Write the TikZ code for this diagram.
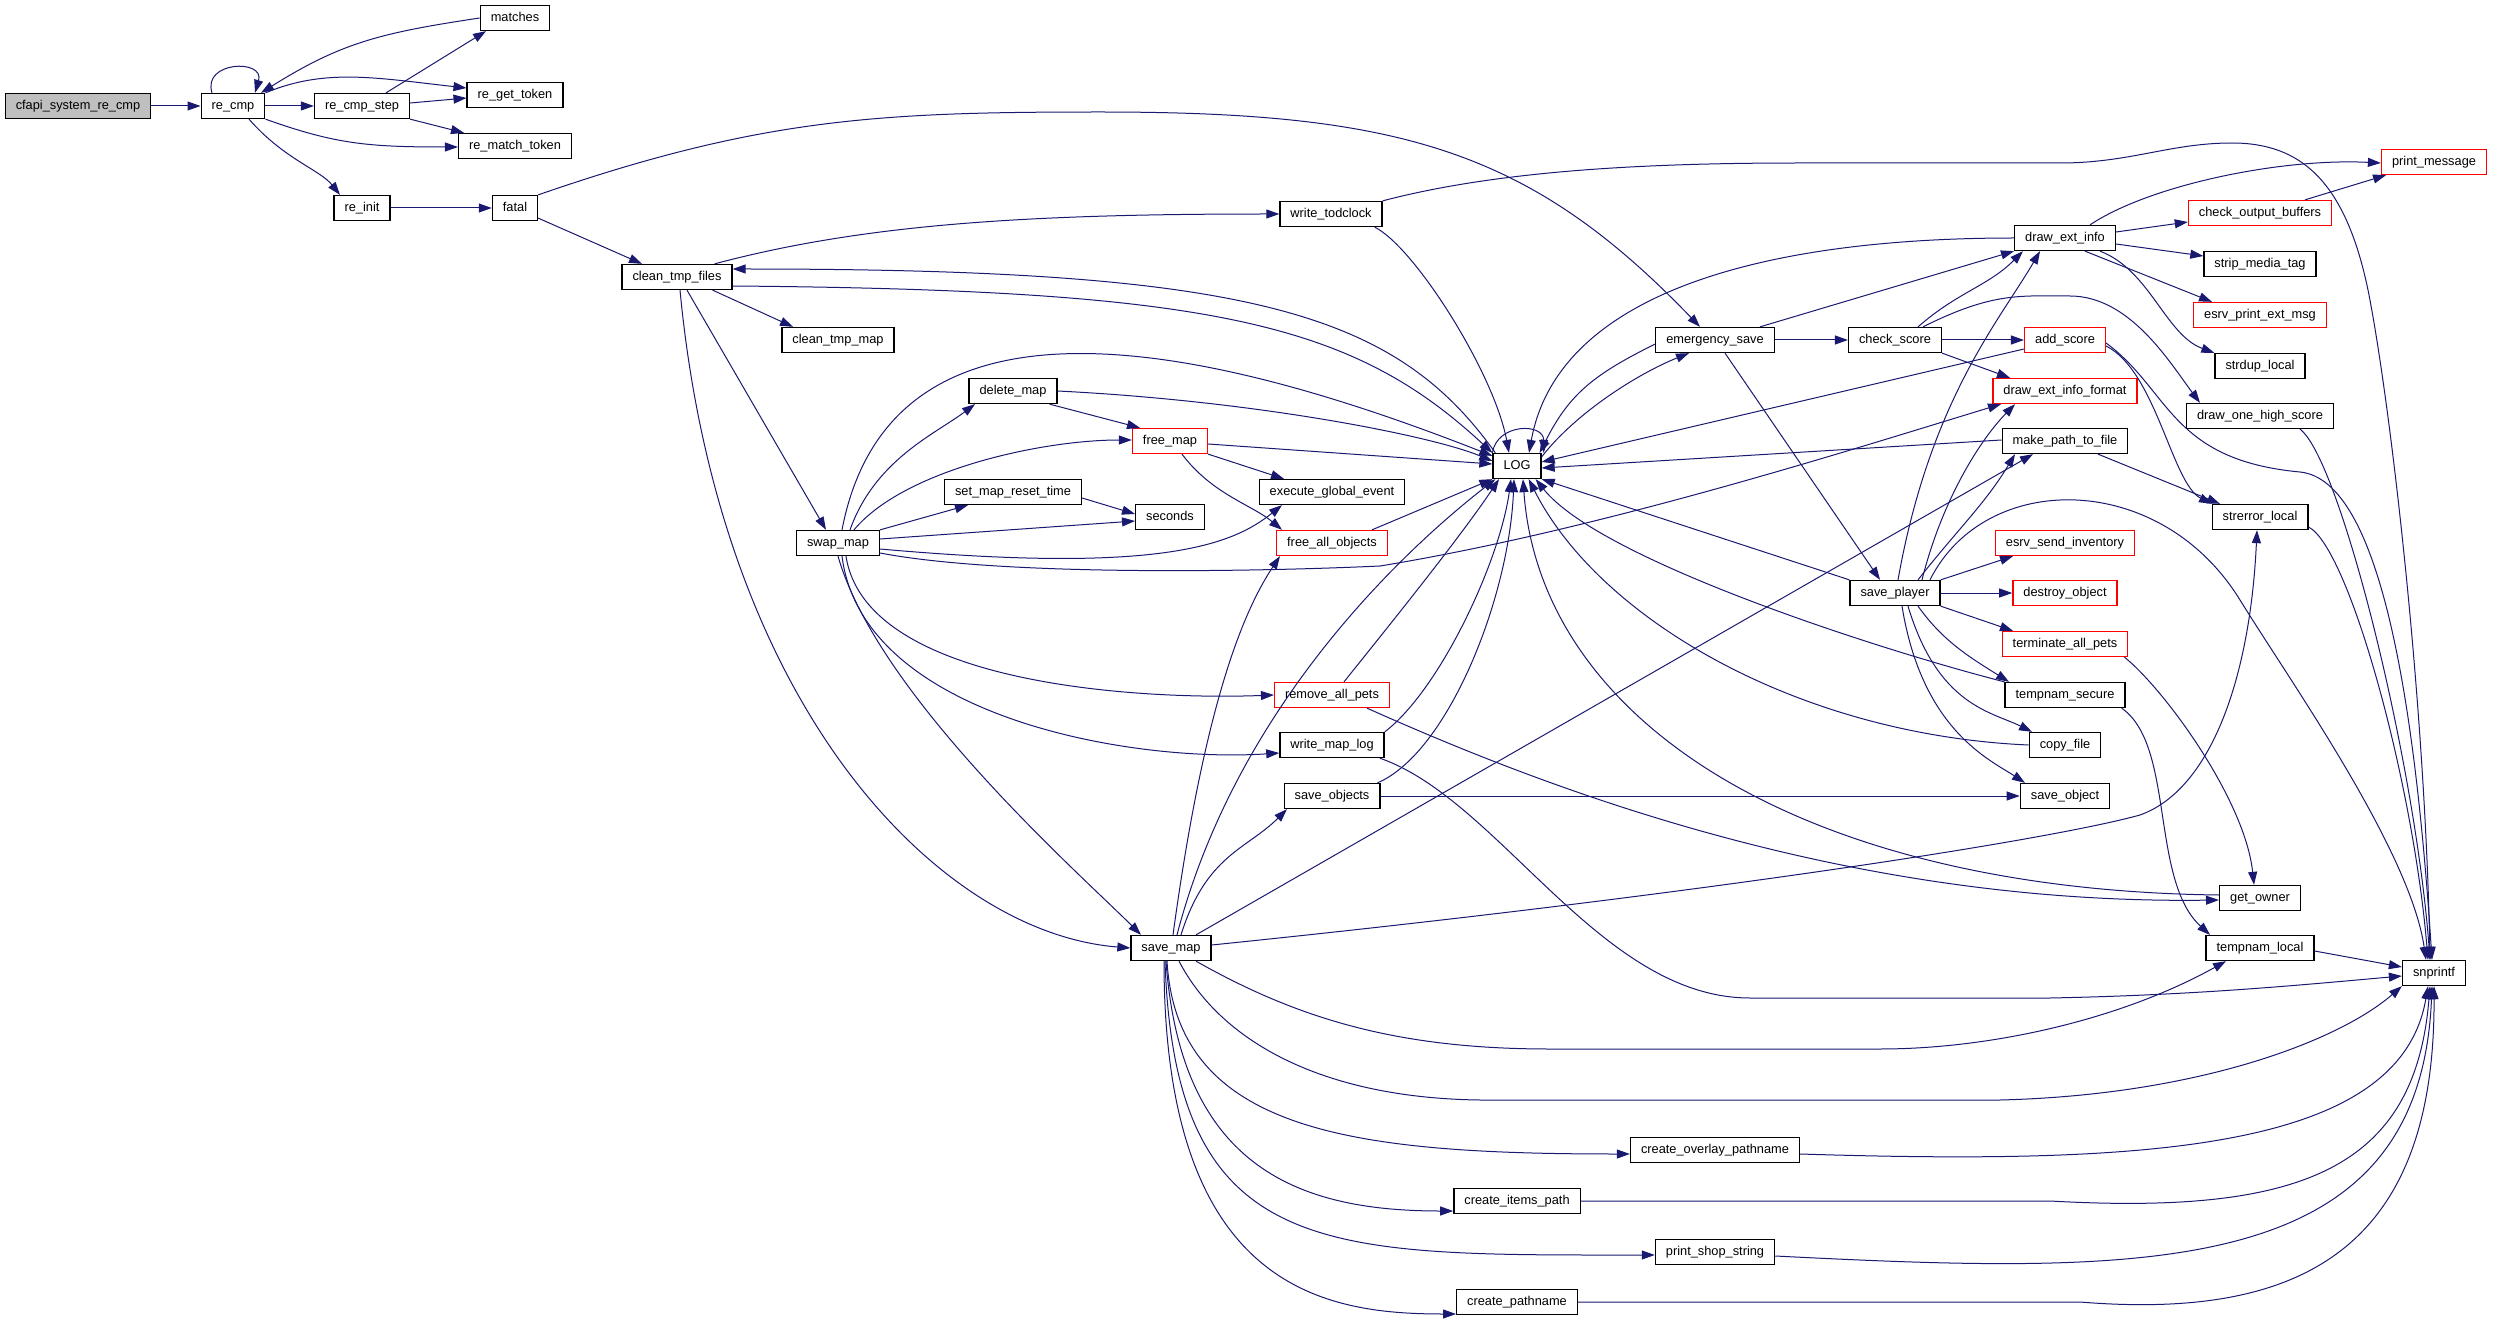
\documentclass[tikz,border=0pt]{standalone}
\usepackage{fontspec}
\setmainfont{Liberation Sans}
\usetikzlibrary{arrows.meta,positioning}
\definecolor{callblue}{HTML}{191970}
\definecolor{truncred}{HTML}{FF0000}
\definecolor{rootgrey}{HTML}{BFBFBF}
\tikzstyle{func} = [draw=black,line width=1.3pt,rectangle,fill=white,minimum height=25pt,inner xsep=10.5pt,inner ysep=0pt,text height=9.2pt,text depth=2.7pt,font=\fontsize{12.8}{15}\selectfont]
\tikzstyle{trunc} = [func,draw=truncred]
\tikzstyle{root} = [func,fill=rootgrey]
\tikzstyle{call} = [draw=callblue,line width=1pt,-{Triangle[length=13pt,width=9pt]}]

\begin{document}
\begin{tikzpicture}[x=1pt,y=1pt]
\useasboundingbox (0,0) rectangle (2493,-1321);
\node[root] (cfapi) at (78,-106) {cfapi\_system\_re\_cmp};
\node[func] (recmp) at (233,-106) {re\_cmp};
\node[func] (recmpstep) at (362,-106) {re\_cmp\_step};
\node[func] (matches) at (515,-18) {matches};
\node[func] (regettoken) at (515,-95) {re\_get\_token};
\node[func] (rematchtoken) at (515,-146) {re\_match\_token};
\node[func] (reinit) at (362,-208) {re\_init};
\node[func] (fatal) at (515,-208) {fatal};
\node[func] (cleantmpfiles) at (677,-277) {clean\_tmp\_files};
\node[func] (cleantmpmap) at (838,-340) {clean\_tmp\_map};
\node[func] (writetodclock) at (1331,-214) {write\_todclock};
\node[func] (deletemap) at (1013,-391) {delete\_map};
\node[trunc] (freemap) at (1170,-441) {free\_map};
\node[func] (setmapresettime) at (1013,-492) {set\_map\_reset\_time};
\node[func] (seconds) at (1170,-517) {seconds};
\node[func] (swapmap) at (838,-543) {swap\_map};
\node[func] (execglobal) at (1332,-492) {execute\_global\_event};
\node[func] (LOG) at (1517,-466) {LOG};
\node[trunc] (freeallobjects) at (1332,-543) {free\_all\_objects};
\node[trunc] (removeallpets) at (1332,-695) {remove\_all\_pets};
\node[func] (writemaplog) at (1332,-745) {write\_map\_log};
\node[func] (saveobjects) at (1332,-796) {save\_objects};
\node[func] (savemap) at (1171,-948) {save\_map};
\node[func] (emergencysave) at (1715,-340) {emergency\_save};
\node[func] (checkscore) at (1895,-340) {check\_score};
\node[func] (saveplayer) at (1895,-593) {save\_player};
\node[func] (drawextinfo) at (2065,-238) {draw\_ext\_info};
\node[trunc] (addscore) at (2065,-340) {add\_score};
\node[trunc] (drawextinfoformat) at (2065,-391) {draw\_ext\_info\_format};
\node[func] (makepath) at (2065,-441) {make\_path\_to\_file};
\node[trunc] (esrvsendinv) at (2065,-543) {esrv\_send\_inventory};
\node[trunc] (destroyobject) at (2065,-593) {destroy\_object};
\node[trunc] (terminateallpets) at (2065,-644) {terminate\_all\_pets};
\node[func] (tempnamsecure) at (2065,-695) {tempnam\_secure};
\node[func] (copyfile) at (2065,-745) {copy\_file};
\node[func] (saveobject) at (2065,-796) {save\_object};
\node[trunc] (printmessage) at (2434,-162) {print\_message};
\node[trunc] (checkoutput) at (2260,-213) {check\_output\_buffers};
\node[func] (stripmedia) at (2260,-264) {strip\_media\_tag};
\node[trunc] (esrvprintext) at (2260,-315) {esrv\_print\_ext\_msg};
\node[func] (strduplocal) at (2260,-366) {strdup\_local};
\node[func] (drawonehigh) at (2260,-416) {draw\_one\_high\_score};
\node[func] (strerrorlocal) at (2260,-517) {strerror\_local};
\node[func] (getowner) at (2260,-898) {get\_owner};
\node[func] (tempnamlocal) at (2260,-948) {tempnam\_local};
\node[func] (snprintf) at (2434,-973) {snprintf};
\node[func] (createoverlay) at (1715,-1150) {create\_overlay\_pathname};
\node[func] (createitems) at (1517,-1201) {create\_items\_path};
\node[func] (printshop) at (1715,-1252) {print\_shop\_string};
\node[func] (createpathname) at (1517,-1302) {create\_pathname};

\draw[call] (cfapi) -- (recmp);
\draw[call] ([xshift=-21pt]recmp.north) .. controls +(-10,32) and +(10,34) .. ([xshift=22pt]recmp.north);
\draw[call] (recmp) -- (recmpstep);
\draw[call] (recmp.north east) .. controls +(60,25) and +(-90,10) .. ([yshift=7pt]regettoken.west);
\draw[call] (recmp.south east) .. controls +(70,-25) and +(-90,0) .. ([yshift=-1pt]rematchtoken.west);
\draw[call] ([xshift=16pt]recmp.south) .. controls +(35,-40) and +(-20,25) .. ([xshift=-22pt]reinit.north);
\draw[call] ([xshift=24pt]recmpstep.north) -- ([xshift=-29pt]matches.south);
\draw[call] ([yshift=3pt]recmpstep.east) -- ([yshift=-3pt]regettoken.west);
\draw[call] (recmpstep.south east) -- ([xshift=6pt]rematchtoken.north west);
\draw[call] (matches.west) .. controls +(-100,-15) and +(80,50) .. ([xshift=28pt]recmp.north);
\draw[call] (reinit) -- (fatal);
\draw[call] (fatal.north east) .. controls (760,-118) and (880,-112) .. (1100,-112) .. controls (1400,-112) and (1530,-150) .. ([xshift=-15pt]emergencysave.north);
\draw[call] ([yshift=3pt]fatal.south east) -- ([xshift=-35pt]cleantmpfiles.north);

\draw[call] ([xshift=-18pt]cleantmpfiles.north east) .. controls +(150,40) and +(-250,0) .. (writetodclock.west);
\draw[call] ([yshift=-9pt]cleantmpfiles.east) .. controls +(480,-4) and +(-140,130) .. (LOG.north west);
\draw[call] ([xshift=3pt]LOG.north west) .. controls +(-100,140) and +(520,0) .. ([yshift=8pt]cleantmpfiles.east);
\draw[call] ([xshift=-20pt]cleantmpfiles.south east) -- ([xshift=-45pt]cleantmpmap.north);
\draw[call] ([xshift=10pt]cleantmpfiles.south) -- ([xshift=-12pt]swapmap.north);
\draw[call] ([xshift=3pt]cleantmpfiles.south) .. controls +(40,-420) and +(-190,15) .. (savemap.west);
\draw[call] ([xshift=-8pt]writetodclock.south east) .. controls +(40,-20) and +(-15,80) .. ([xshift=-8pt]LOG.north);
\draw[call] (writetodclock.north east) .. controls (1500,-170) and (1650,-163) .. (1800,-163) -- (2060,-163) .. controls (2130,-163) and (2170,-143) .. (2232,-143) .. controls (2300,-143) and (2345,-180) .. (2368,-290) .. controls (2390,-400) and (2425,-700) .. ([xshift=-4pt]snprintf.north);

\draw[call] ([xshift=4pt]swapmap.north) .. controls +(50,260) and +(-280,110) .. ([yshift=-3pt]LOG.north west);
\draw[call] ([xshift=12pt]swapmap.north) .. controls +(25,70) and +(-40,-30) .. ([xshift=-38pt]deletemap.south);
\draw[call] ([xshift=16pt]swapmap.north) .. controls +(50,60) and +(-90,0) .. ([yshift=1pt]freemap.west);
\draw[call] (swapmap.north east) -- ([xshift=-45pt]setmapresettime.south);
\draw[call] ([yshift=4pt]swapmap.east) -- ([yshift=-4pt]seconds.west);
\draw[call] ([yshift=-6pt]swapmap.east) .. controls +(280,-25) and +(-50,-40) .. ([xshift=-50pt]execglobal.south);
\draw[call] ([yshift=-10pt]swapmap.east) .. controls (1000,-576) and (1250,-572) .. (1380,-566) .. controls (1600,-530) and (1850,-450) .. ([xshift=-64pt]drawextinfoformat.south);
\draw[call] ([xshift=8pt]swapmap.south) .. controls +(20,-130) and +(-130,-5) .. (removeallpets.west);
\draw[call] ([xshift=4pt]swapmap.south) .. controls +(20,-160) and +(-150,-10) .. ([yshift=-8pt]writemaplog.west);
\draw[call] (swapmap.south) .. controls +(40,-140) and +(-60,60) .. ([xshift=-30pt]savemap.north);
\draw[call] (deletemap.east) .. controls +(200,-10) and +(-60,25) .. ([yshift=5pt]LOG.west);
\draw[call] ([xshift=-8pt]deletemap.south east) -- ([xshift=-30pt]freemap.north);
\draw[call] ([yshift=-3pt]freemap.east) -- ([yshift=2pt]LOG.west);
\draw[call] (freemap.south east) -- ([xshift=-48pt]execglobal.north);
\draw[call] ([xshift=12pt]freemap.south) .. controls +(30,-40) and +(-30,25) .. ([xshift=-50pt]freeallobjects.north);
\draw[call] ([yshift=-6pt]setmapresettime.east) -- ([yshift=3pt]seconds.west);
\draw[call] ([xshift=40pt]freeallobjects.north) -- (LOG.south west);

\draw[call] ([xshift=2pt]savemap.north) .. controls +(30,220) and +(-40,-60) .. ([xshift=-52pt]freeallobjects.south);
\draw[call] ([xshift=6pt]savemap.north) .. controls +(60,230) and +(-90,-70) .. ([xshift=3pt]LOG.south west);
\draw[call] ([xshift=10pt]savemap.north) .. controls +(25,80) and +(-40,-40) .. ([xshift=-45pt]saveobjects.south);
\draw[call] ([xshift=25pt]savemap.north) -- ([xshift=-32pt]makepath.south);
\draw[call] ([yshift=3pt]savemap.east) .. controls (1700,-895) and (2050,-840) .. (2140,-815) .. controls (2210,-790) and (2250,-680) .. ([xshift=-3pt]strerrorlocal.south);
\draw[call] ([xshift=25pt]savemap.south) .. controls (1300,-1020) and (1400,-1049) .. (1550,-1049) -- (1880,-1049) .. controls (1990,-1049) and (2120,-1020) .. ([xshift=-34pt]tempnamlocal.south);
\draw[call] ([xshift=8pt]savemap.south) .. controls (1220,-1040) and (1320,-1098) .. (1480,-1100) -- (2000,-1100) .. controls (2200,-1095) and (2340,-1040) .. (snprintf.south west);
\draw[call] ([xshift=-4pt]savemap.south) .. controls +(10,-170) and +(-280,0) .. ([yshift=-4pt]createoverlay.west);
\draw[call] ([xshift=-5pt]savemap.south) .. controls +(15,-210) and +(-150,0) .. ([yshift=-10pt]createitems.west);
\draw[call] ([xshift=-6pt]savemap.south) .. controls +(10,-300) and +(-330,0) .. ([yshift=-3pt]printshop.west);
\draw[call] ([xshift=-7pt]savemap.south) .. controls +(0,-330) and +(-130,0) .. ([yshift=-12pt]createpathname.west);

\draw[call] (emergencysave) -- (checkscore);
\draw[call] ([xshift=45pt]emergencysave.north) -- (drawextinfo.south west);
\draw[call] ([xshift=10pt]emergencysave.south) -- ([xshift=-15pt]saveplayer.north);
\draw[call] ([yshift=-4pt]emergencysave.west) .. controls +(-60,-30) and +(30,60) .. ([xshift=-2pt]LOG.north east);
\draw[call] ([yshift=-4pt]LOG.north east) .. controls +(35,45) and +(-50,-20) .. ([xshift=-26pt]emergencysave.south);
\draw[call] (LOG.north west) .. controls +(5,30) and +(0,30) .. ([xshift=2pt]LOG.north east);
\draw[call] ([xshift=23pt]checkscore.north) .. controls +(40,35) and +(-35,-35) .. ([xshift=-42pt]drawextinfo.south);
\draw[call] (checkscore) -- (addscore);
\draw[call] (checkscore.south east) -- ([xshift=-55pt]drawextinfoformat.north);
\draw[call] ([xshift=28pt]checkscore.north) .. controls +(70,35) and +(-50,0) .. (2070,-296) .. controls +(60,0) and +(-30,40) .. ([xshift=-60pt]drawonehigh.north);

\draw[call] ([xshift=25pt]drawextinfo.north) .. controls +(60,40) and +(-100,5) .. ([yshift=-1pt]printmessage.west);
\draw[call] ([yshift=6pt]drawextinfo.east) -- ([yshift=-9pt]checkoutput.west);
\draw[call] ([yshift=-6pt]drawextinfo.east) -- ([yshift=8pt]stripmedia.west);
\draw[call] ([xshift=20pt]drawextinfo.south) -- ([xshift=-48pt]esrvprintext.north);
\draw[call] ([xshift=35pt]drawextinfo.south) .. controls +(50,-19) and +(-49,18) .. (strduplocal.north west);
\draw[call] (drawextinfo.west) .. controls +(-265,0) and +(28,154) .. ([xshift=12pt]LOG.north);
\draw[call] ([xshift=45pt]checkoutput.north) -- ([xshift=-48pt]printmessage.south);
\draw[call] ([yshift=-9pt]addscore.west) -- ([yshift=4pt]LOG.east);
\draw[call] ([yshift=-6pt]addscore.east) .. controls +(50,-25) and +(-40,20) .. ([xshift=-48pt]strerrorlocal.north);
\draw[call] ([yshift=-3pt]addscore.east) .. controls (2170,-390) and (2170,-460) .. (2300,-472) .. controls (2380,-480) and (2415,-700) .. ([xshift=-2pt]snprintf.north);
\draw[call] ([yshift=1pt]makepath.west) -- ([yshift=-2pt]LOG.east);
\draw[call] ([xshift=33pt]makepath.south) -- ([xshift=-40pt]strerrorlocal.north);
\draw[call] ([xshift=40pt]drawonehigh.south) .. controls +(40,-30) and +(-15,200) .. ([xshift=-4pt]snprintf.north);
\draw[call] ([yshift=-10pt]strerrorlocal.east) .. controls +(40,-20) and +(-15,180) .. ([xshift=-6pt]snprintf.north);

\draw[call] ([xshift=3pt]saveplayer.north) .. controls (1930,-400) and (2000,-320) .. ([xshift=-25pt]drawextinfo.south);
\draw[call] ([xshift=27pt]saveplayer.north) .. controls (1942,-500) and (1980,-440) .. ([xshift=-50pt]drawextinfoformat.south);
\draw[call] ([xshift=23pt]saveplayer.north) .. controls (1957,-530) and (1985,-504) .. ([xshift=-50pt]makepath.south);
\draw[call] (saveplayer.north east) -- ([xshift=-52pt]esrvsendinv.south);
\draw[call] (saveplayer) -- (destroyobject);
\draw[call] (saveplayer.south east) -- ([xshift=-52pt]terminateallpets.north);
\draw[call] ([xshift=23pt]saveplayer.south) .. controls +(25,-35) and +(-40,25) .. ([xshift=-56pt]tempnamsecure.north);
\draw[call] ([xshift=13pt]saveplayer.south) .. controls +(30,-100) and +(-40,20) .. ([xshift=-33pt]copyfile.north);
\draw[call] ([xshift=7pt]saveplayer.south) .. controls +(20,-124) and +(-35,23) .. ([xshift=-40pt]saveobject.north);
\draw[call] (saveplayer.north west) -- (LOG.south east);
\draw[call] ([xshift=35pt]saveplayer.north) .. controls (1985,-470) and (2160,-470) .. (2240,-600) .. controls (2290,-681) and (2410,-850) .. ([xshift=-8pt]snprintf.north);

\draw[call] ([xshift=-4pt]terminateallpets.south east) .. controls (2165,-690) and (2245,-800) .. ([xshift=-6pt]getowner.north);
\draw[call] ([xshift=-4pt]tempnamsecure.south east) .. controls (2175,-745) and (2150,-880) .. ([xshift=-50pt]tempnamlocal.north);
\draw[call] (tempnamsecure.north west) .. controls (1880,-650) and (1600,-560) .. ([xshift=-6pt]LOG.south east);
\draw[call] (copyfile.west) .. controls (1800,-735) and (1600,-620) .. ([xshift=-13pt]LOG.south east);
\draw[call] ([yshift=3pt]getowner.west) .. controls (1800,-890) and (1540,-720) .. ([xshift=6pt]LOG.south);
\draw[call] ([xshift=12pt]removeallpets.north) .. controls +(40,50) and +(-40,-60) .. ([xshift=-18pt]LOG.south);
\draw[call] ([xshift=35pt]removeallpets.south) .. controls (1550,-790) and (1850,-905) .. ([yshift=-2pt]getowner.west);
\draw[call] (writemaplog.north east) .. controls +(56,43) and +(-11,-81) .. ([xshift=-6pt]LOG.south);
\draw[call] ([xshift=-5pt]writemaplog.south east) .. controls (1500,-800) and (1600,-998) .. (1750,-998) -- (2050,-998) .. controls (2200,-995) and (2300,-985) .. ([yshift=-3pt]snprintf.west);
\draw[call] ([xshift=-3pt]saveobjects.north east) .. controls +(70,30) and +(-5,-120) .. ([xshift=-3pt]LOG.south);
\draw[call] (saveobjects) -- (saveobject);
\draw[call] ([yshift=-3pt]tempnamlocal.east) -- ([yshift=6pt]snprintf.west);
\draw[call] ([yshift=-4pt]createoverlay.east) .. controls (2150,-1165) and (2400,-1150) .. ([xshift=-6pt]snprintf.south);
\draw[call] (createitems.east) -- (2050,-1201) .. controls (2300,-1215) and (2415,-1170) .. ([xshift=-4pt]snprintf.south);
\draw[call] ([yshift=-4pt]printshop.east) .. controls (2150,-1275) and (2420,-1280) .. ([xshift=-2pt]snprintf.south);
\draw[call] (createpathname.east) -- (2080,-1302) .. controls (2300,-1320) and (2435,-1250) .. (snprintf.south);
\end{tikzpicture}
\end{document}
